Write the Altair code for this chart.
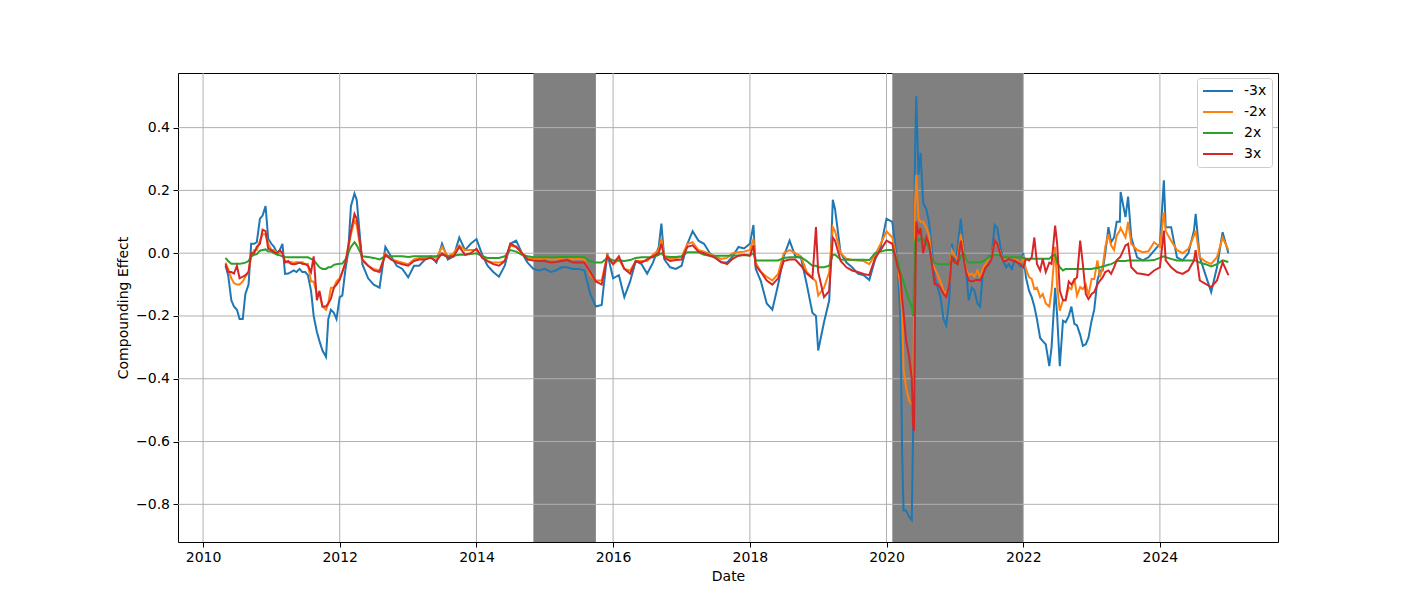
import altair as alt
import pandas as pd

series_names = ["-3x", "-2x", "2x", "3x"]
series_colors = ["#1f77b4", "#ff7f0e", "#2ca02c", "#d62728"]

# monthly samples, first of each month, 2010-05 .. 2025-01
month_first = "2010-05-01"
month_last = "2025-01-01"

m3x = [
    -0.04, -0.15, -0.18, -0.21, -0.10, 0.03, 0.11, 0.15,
    0.03, 0.00, 0.03, -0.065, -0.055, -0.05, -0.06, -0.12, -0.25, -0.31, -0.21, -0.19,
    -0.14, -0.05, 0.15, 0.17, -0.035, -0.08, -0.10, -0.11, 0.02, -0.01, -0.04, -0.05,
    -0.077, -0.04, -0.04, -0.02, -0.01, -0.03, 0.03, -0.02, -0.01, 0.05, 0.01, 0.03,
    0.045, -0.005, -0.04, -0.06, -0.075, -0.04, 0.03, 0.04, 0.00, -0.03, -0.05, -0.055,
    -0.05, -0.06, -0.055, -0.045, -0.045, -0.05, -0.05, -0.055, -0.13, -0.17, -0.165, 0.00,
    -0.08, -0.07, -0.14, -0.09, -0.025, -0.035, -0.065, -0.03, 0.02, -0.02, -0.045, -0.05,
    -0.04, 0.03, 0.07, 0.04, 0.03, 0.00, -0.015, -0.03, -0.03, -0.01, 0.02, 0.015,
    0.03, -0.05, -0.09, -0.16, -0.18, -0.10, -0.01, 0.04, -0.01, -0.015, -0.10, -0.19,
    -0.31, -0.22, -0.15, 0.14, 0.00, -0.03, -0.045, -0.065, -0.07, -0.085, -0.02, 0.02,
    0.11, 0.10, -0.04, -0.82, -0.84, 0.30, 0.32, 0.14, 0.00, -0.11, -0.21, -0.15,
    -0.03, 0.11, -0.05, -0.11, -0.16, -0.045, -0.01, 0.09, 0.02, -0.045, -0.05, -0.03,
    0.00, -0.12, -0.17, -0.27, -0.29, -0.30, -0.20, -0.215, -0.20, -0.225, -0.26, -0.29,
    -0.215, -0.087, -0.055, 0.083, 0.05, 0.10, 0.115, 0.05, -0.013, -0.023, -0.013, 0.008,
    0.03, 0.083, 0.083, -0.013, -0.023, 0.00, 0.072, -0.013, -0.07, -0.124, -0.045, 0.067,
    0.00,
]

m2x = [
    -0.03, -0.08, -0.10, -0.09, -0.06, 0.01, 0.04, 0.06,
    0.01, 0.00, 0.00, -0.03, -0.03, -0.03, -0.035, -0.09, -0.13, -0.17, -0.16, -0.11,
    -0.08, -0.03, 0.06, 0.09, -0.025, -0.04, -0.05, -0.055, 0.00, -0.02, -0.025, -0.03,
    -0.035, -0.02, -0.015, -0.015, -0.01, -0.015, 0.02, -0.01, 0.00, 0.025, 0.01, 0.01,
    0.01, -0.01, -0.025, -0.03, -0.03, -0.025, 0.025, 0.02, 0.00, -0.015, -0.018, -0.018,
    -0.015, -0.02, -0.02, -0.015, -0.012, -0.02, -0.018, -0.02, -0.07, -0.087, -0.087, -0.005,
    -0.035, -0.02, -0.05, -0.055, -0.025, -0.025, -0.025, -0.005, 0.01, -0.01, -0.018, -0.015,
    -0.012, 0.03, 0.035, 0.01, 0.005, -0.002, -0.01, -0.018, -0.015, 0.00, 0.003, 0.005,
    0.01, -0.03, -0.06, -0.075, -0.087, -0.066, 0.00, 0.01, 0.00, -0.01, -0.06, -0.078,
    -0.135, -0.11, -0.06, 0.07, 0.00, -0.018, -0.022, -0.023, -0.025, -0.035, -0.005, 0.03,
    0.07, 0.05, -0.04, -0.37, -0.47, 0.15, 0.10, 0.08, -0.03, -0.07, -0.12, -0.10,
    -0.01, 0.06, -0.05, -0.065, -0.055, -0.045, -0.015, 0.04, 0.00, -0.023, -0.023, -0.023,
    -0.013, -0.077, -0.114, -0.14, -0.16, -0.12, -0.108, -0.15, -0.108, -0.08, -0.108, -0.10,
    -0.082, -0.023, -0.045, 0.06, 0.01, 0.072, 0.05, 0.03, 0.01, 0.003, 0.006, 0.035,
    0.02, 0.07, 0.04, 0.01, 0.00, 0.014, 0.056, -0.013, -0.027, -0.034, -0.013, 0.05,
    0.01,
]

p2x = [
    -0.015, -0.034, -0.034, -0.032, -0.025, -0.005, 0.008, 0.012,
    0.005, -0.005, -0.01, -0.013, -0.013, -0.013, -0.013, -0.018, -0.035, -0.05, -0.045, -0.037,
    -0.034, -0.02, 0.02, 0.025, -0.01, -0.012, -0.015, -0.02, -0.01, -0.01, -0.01, -0.01,
    -0.012, -0.01, -0.01, -0.01, -0.01, -0.01, -0.005, -0.01, -0.008, -0.005, -0.005, -0.003,
    0.00, -0.01, -0.015, -0.015, -0.015, -0.01, 0.01, 0.005, -0.005, -0.01, -0.013, -0.013,
    -0.013, -0.013, -0.013, -0.012, -0.012, -0.012, -0.012, -0.013, -0.025, -0.03, -0.03, -0.015,
    -0.023, -0.023, -0.025, -0.022, -0.015, -0.013, -0.013, -0.013, -0.005, -0.01, -0.012, -0.012,
    -0.01, 0.003, 0.003, 0.003, -0.005, -0.008, -0.008, -0.008, -0.008, -0.007, -0.007, -0.006,
    -0.007, -0.023, -0.023, -0.023, -0.023, -0.023, -0.015, -0.013, -0.013, -0.013, -0.025, -0.04,
    -0.045, -0.045, -0.04, -0.005, -0.02, -0.021, -0.021, -0.021, -0.021, -0.022, 0.00, 0.005,
    0.01, 0.01, -0.025, -0.09, -0.15, 0.03, 0.045, 0.03, -0.025, -0.035, -0.035, -0.035,
    -0.025, -0.01, -0.02, -0.03, -0.03, -0.025, -0.013, -0.005, -0.008, -0.013, -0.013, -0.013,
    -0.015, -0.018, -0.018, -0.018, -0.018, -0.01, -0.03, -0.055, -0.05, -0.05, -0.05, -0.05,
    -0.05, -0.047, -0.042, -0.037, -0.03, -0.025, -0.025, -0.023, -0.023, -0.023, -0.023, -0.022,
    -0.015, -0.013, -0.018, -0.023, -0.023, -0.023, -0.023, -0.03, -0.035, -0.042, -0.035, -0.023,
    -0.028,
]

p3x = [
    -0.035, -0.06, -0.04, -0.075, -0.06, 0.00, 0.03, 0.07,
    0.01, 0.00, 0.00, -0.025, -0.035, -0.03, -0.035, -0.06, -0.15, -0.17, -0.16, -0.11,
    -0.085, -0.03, 0.07, 0.11, -0.02, -0.04, -0.055, -0.06, -0.005, -0.02, -0.03, -0.035,
    -0.04, -0.025, -0.02, -0.02, -0.015, -0.025, 0.00, -0.015, -0.01, 0.02, -0.005, 0.00,
    0.014, -0.015, -0.025, -0.035, -0.04, -0.025, 0.03, 0.02, 0.00, -0.02, -0.023, -0.025,
    -0.025, -0.03, -0.028, -0.025, -0.022, -0.03, -0.03, -0.03, -0.06, -0.09, -0.10, -0.01,
    -0.035, -0.01, -0.05, -0.065, -0.025, -0.03, -0.02, -0.01, 0.00, -0.015, -0.025, -0.022,
    -0.02, 0.02, 0.025, 0.005, 0.00, -0.008, -0.015, -0.028, -0.035, -0.018, -0.008, -0.005,
    -0.008, -0.04, -0.06, -0.087, -0.10, -0.08, -0.025, -0.02, -0.02, -0.04, -0.065, -0.08,
    -0.06, -0.14, -0.12, 0.04, -0.025, -0.045, -0.055, -0.06, -0.066, -0.07, -0.015, 0.01,
    0.04, 0.03, -0.045, -0.19, -0.33, -0.20, 0.08, 0.05, -0.04, -0.10, -0.13, -0.10,
    -0.03, 0.04, -0.06, -0.09, -0.085, -0.065, -0.035, 0.04, -0.005, -0.025, -0.023, -0.03,
    -0.045, -0.023, 0.05, -0.055, -0.06, -0.034, 0.03, -0.15, -0.09, -0.085, 0.04, -0.13,
    -0.13, -0.10, -0.077, -0.055, -0.045, -0.013, 0.025, -0.045, -0.064, -0.066, -0.07, -0.055,
    -0.045, -0.023, -0.045, -0.06, -0.066, -0.055, -0.023, -0.087, -0.098, -0.108, -0.087, -0.029,
    -0.07,
]

# extra readings between monthly samples (spikes and the 2020 crash)
extra_dates = [
    "2011-10-20", "2012-03-20", "2016-09-15", "2018-01-20", "2018-12-20",
    "2019-03-20", "2020-03-15", "2020-03-25", "2020-04-15", "2020-05-15",
    "2020-05-22", "2020-05-27", "2020-06-08", "2020-06-20", "2022-05-20",
    "2022-06-20", "2022-07-15", "2023-06-05", "2023-07-15", "2024-01-22",
    "2024-07-10",
]
m3x_extra = [-0.33, 0.19, 0.094, 0.09, -0.20, 0.17, -0.20, -0.65, -0.82, -0.85,
             -0.57, -0.10, 0.50, 0.25, -0.36, -0.11, -0.36, 0.195, 0.18, 0.232, 0.125]
m2x_extra = [-0.18, 0.105, 0.046, 0.046, -0.09, 0.083, -0.11, -0.20, -0.43, -0.48,
             -0.49, -0.10, 0.25, 0.11, -0.17, 0.02, -0.183, 0.08, 0.10, 0.13, 0.072]
p2x_extra = [-0.05, 0.035, 0.00, 0.00, -0.04, -0.005, -0.06, -0.08, -0.12, -0.17,
             -0.20, -0.09, 0.06, 0.04, -0.018, -0.005, -0.045, -0.025, -0.023, -0.01, -0.023]
p3x_extra = [-0.17, 0.125, 0.03, 0.025, 0.083, 0.05, -0.07, -0.15, -0.28, -0.40,
             -0.55, -0.566, 0.10, 0.06, -0.03, 0.088, -0.12, -0.01, 0.03, 0.072, 0.01]

# mid-month readings in the busiest stretches
mid_dates = [
    "2010-05-15", "2010-06-15", "2010-07-15", "2010-08-15", "2010-09-15", "2010-10-15",
    "2010-11-15", "2010-12-15",
    "2011-01-15", "2011-02-15", "2011-03-15", "2011-04-15", "2011-05-15", "2011-06-15",
    "2011-07-15", "2011-08-15", "2011-09-15", "2011-11-15", "2011-12-15",
    "2012-01-15", "2012-02-15",
    "2020-07-15", "2020-08-15", "2020-09-15", "2020-10-15", "2020-11-15", "2020-12-15",
    "2021-01-15", "2021-02-15", "2021-03-15", "2021-04-15", "2021-05-15", "2021-06-15",
    "2021-07-15", "2021-08-15", "2021-09-15", "2021-10-15", "2021-11-15", "2021-12-15",
    "2022-01-15", "2022-02-15", "2022-03-15", "2022-04-15", "2022-08-15", "2022-09-15",
    "2022-10-15", "2022-11-15", "2022-12-15",
    "2023-01-15", "2023-02-15", "2023-03-15", "2023-04-15", "2023-05-15",
]
m3x_mid = [
    -0.07, -0.17, -0.21, -0.13, 0.03, 0.035, 0.12, 0.046,
    0.02, 0.01, -0.066, -0.06, -0.06, -0.06, -0.07, -0.20, -0.28, -0.18, -0.21,
    -0.135, 0.00,
    0.16, 0.10, -0.08, -0.14, -0.23, 0.03,
    0.02, 0.02, -0.15, -0.12, -0.17, -0.045, -0.01, 0.08, -0.023, -0.035, -0.023, -0.04,
    -0.077, -0.14, -0.21, -0.28, -0.22, -0.17, -0.23, -0.295, -0.27,
    -0.18, -0.055, 0.00, 0.035, 0.10,
]
m2x_mid = [
    -0.05, -0.095, -0.10, -0.075, -0.01, 0.01, 0.06, 0.03,
    0.01, 0.00, -0.024, -0.028, -0.028, -0.028, -0.034, -0.09, -0.13, -0.11, -0.09,
    -0.06, 0.013,
    0.10, 0.06, -0.05, -0.09, -0.13, 0.01,
    -0.02, 0.01, -0.07, -0.075, -0.077, -0.034, -0.01, 0.03, -0.018, -0.018, -0.018, -0.034,
    -0.05, -0.082, -0.11, -0.13, -0.15, -0.114, -0.135, -0.114, -0.135,
    -0.082, -0.077, 0.02, 0.025, 0.056,
]
p2x_mid = [
    -0.025, -0.034, -0.034, -0.03, -0.01, -0.003, 0.01, 0.005,
    0.00, -0.007, -0.012, -0.013, -0.013, -0.013, -0.013, -0.022, -0.045, -0.045, -0.035,
    -0.033, 0.00,
    0.045, 0.02, -0.03, -0.035, -0.035, -0.025,
    -0.034, 0.00, -0.03, -0.029, -0.029, -0.02, -0.01, -0.005, -0.013, -0.013, -0.013, -0.013,
    -0.018, -0.018, -0.018, -0.018, -0.05, -0.05, -0.05, -0.05, -0.05,
    -0.048, -0.045, -0.04, -0.035, -0.025,
]
p3x_mid = [
    -0.06, -0.065, -0.08, -0.07, 0.00, 0.02, 0.075, 0.014,
    0.003, 0.01, -0.03, -0.034, -0.034, -0.034, -0.04, -0.01, -0.12, -0.145, -0.10,
    -0.06, 0.02,
    0.00, 0.03, -0.10, -0.11, -0.14, -0.013,
    -0.035, -0.013, -0.087, -0.087, -0.087, -0.045, -0.02, 0.03, -0.023, -0.018, -0.023, -0.034,
    -0.018, -0.013, -0.034, -0.018, -0.15, -0.10, -0.077, -0.034, -0.146,
    -0.124, -0.087, -0.06, -0.066, -0.023,
]

shade_start = ["2014-11-01", "2020-02-01"]
shade_end = ["2015-10-01", "2022-01-01"]

x_tick_years = [2010, 2012, 2014, 2016, 2018, 2020, 2022, 2024]
y_ticks = [-0.8, -0.6, -0.4, -0.2, 0.0, 0.2, 0.4]

# ---------------------------------------------------------------------------
months = pd.date_range(month_first, month_last, freq="MS")
extra = pd.to_datetime(extra_dates)
mid = pd.to_datetime(mid_dates)
frames = []
for name, main, ext, md in zip(series_names, [m3x, m2x, p2x, p3x],
                               [m3x_extra, m2x_extra, p2x_extra, p3x_extra],
                               [m3x_mid, m2x_mid, p2x_mid, p3x_mid]):
    d = pd.DataFrame({
        "date": list(months) + list(extra) + list(mid),
        "value": list(main) + list(ext) + list(md),
    })
    d["series"] = name
    frames.append(d.sort_values("date"))
df = pd.concat(frames, ignore_index=True)
df["date"] = df["date"].dt.strftime("%Y-%m-%d")

shade_df = pd.DataFrame({"start": shade_start, "end": shade_end})
xgrid_df = pd.DataFrame({"d": [f"{y}-01-01" for y in x_tick_years]})
ygrid_df = pd.DataFrame({"v": y_ticks})

FONT = "DejaVu Sans"
x_scale = alt.Scale(domain=[alt.DateTime(year=2009, month=8, date=20),
                            alt.DateTime(year=2025, month=9, date=23)])
y_scale = alt.Scale(domain=[-0.92, 0.574], nice=False, zero=False)

x_axis = alt.Axis(values=[alt.DateTime(year=y) for y in x_tick_years], format="%Y",
                  title="Date", grid=False, labelFlush=False, labelAngle=0,
                  titlePadding=5)
y_axis = alt.Axis(values=y_ticks, format=".1f", title="Compounding Effect",
                  grid=False, labelFlush=False, titlePadding=5)

shade = alt.Chart(shade_df).mark_rect(color="#808080", opacity=1).encode(
    x=alt.X("start:T", scale=x_scale, axis=x_axis),
    x2="end:T",
)

xgrid = alt.Chart(xgrid_df).mark_rule(color="#b0b0b0", strokeWidth=1).encode(
    x=alt.X("d:T", scale=x_scale, axis=x_axis)
)
ygrid = alt.Chart(ygrid_df).mark_rule(color="#b0b0b0", strokeWidth=1).encode(
    y=alt.Y("v:Q", scale=y_scale, axis=y_axis)
)

legend = alt.Legend(
    title=None, orient="none", legendX=1019, legendY=5,
    symbolType="stroke", symbolSize=900, symbolStrokeWidth=2,
    labelFontSize=14, labelFont=FONT, labelColor="black", labelOffset=10,
    strokeColor="#cccccc", fillColor="white", cornerRadius=3, padding=5,
    clipHeight=16, rowPadding=5,
)
color = alt.Color("series:N", scale=alt.Scale(domain=series_names, range=series_colors),
                  legend=legend)

lines = []
for name in series_names:
    lines.append(
        alt.Chart(df).transform_filter(alt.datum.series == name)
        .mark_line(strokeWidth=2, clip=True)
        .encode(
            x=alt.X("date:T", scale=x_scale, axis=x_axis),
            y=alt.Y("value:Q", scale=y_scale, axis=y_axis),
            color=color,
        )
    )

chart = alt.layer(shade, xgrid, ygrid, *lines).properties(
    width=1100, height=469,
    padding={"left": 170, "top": 65, "right": 134, "bottom": 59},
    autosize=alt.AutoSizeParams(type="none"),
    background="white",
).configure_view(stroke="black", strokeWidth=1).configure_axis(
    domain=False, tickColor="black", tickSize=5, tickWidth=1,
    labelFontSize=14, labelFont=FONT, labelColor="black", labelPadding=3.5,
    titleFontSize=14, titleFont=FONT, titleColor="black", titleFontWeight="normal",
)

chart.save("out.html", embed_options={"renderer": "svg", "actions": False})
